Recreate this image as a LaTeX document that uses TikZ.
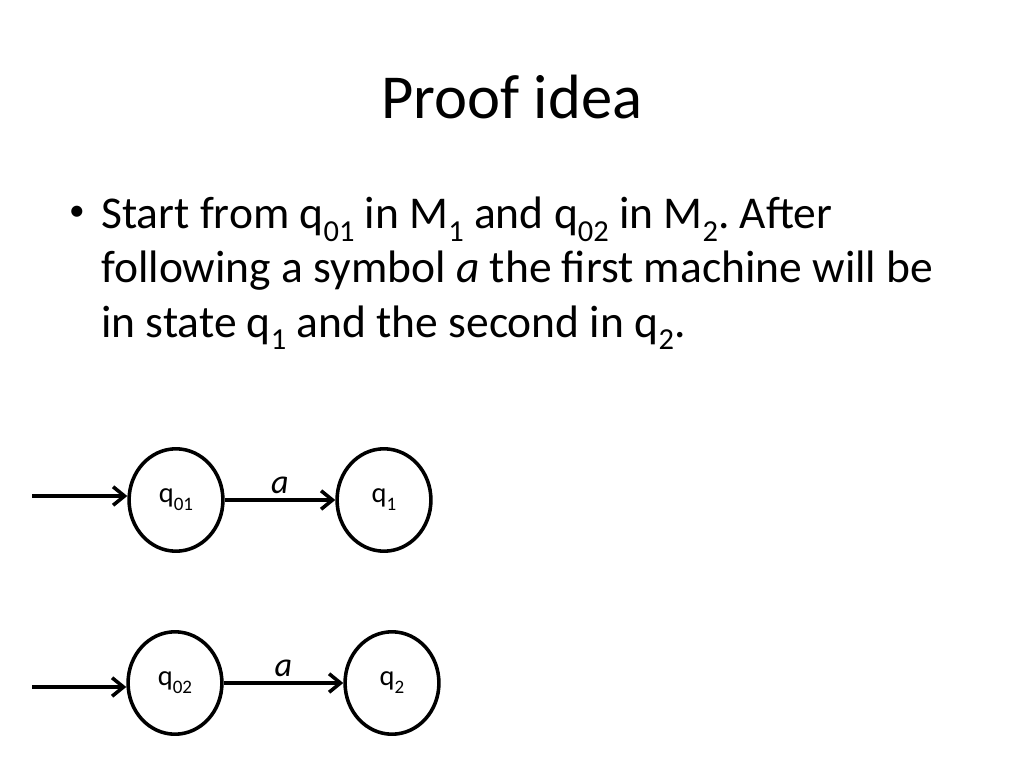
\documentclass[tikz,border=0pt]{standalone}
\usepackage{fontspec}
\setmainfont{Carlito}
\usetikzlibrary{arrows.meta,shapes.geometric}
\frenchspacing
\newcommand{\subs}[1]{\raisebox{-0.28em}{\scalebox{0.67}{#1}}}

\begin{document}
\begin{tikzpicture}[x=0.703125pt,y=-0.703125pt,
	stnode/.style={draw,ellipse,line width=2.5pt,minimum width=66pt,minimum height=72pt,inner sep=0pt,font=\fontsize{20}{22}\selectfont},
	trans/.style={line width=2.5pt,-{Straight Barb[length=8pt,width=13pt]}},
	sym/.style={font=\fontsize{24}{28}\selectfont\itshape}]
	\useasboundingbox (0,0) rectangle (1024,768);
	
	\node[font=\fontsize{44}{53}\selectfont] (title) at (512,97) {Proof idea};
	
	\node[font=\fontsize{22}{26}\selectfont] (bullet) at (77,213) {\textbullet};
	\node[font=\fontsize{32}{38}\selectfont,anchor=base west,align=left,inner sep=0pt] (text) at (101,337)
	{Start from q\subs{01} in M\subs{1} and q\subs{02} in M\subs{2}. After\\
	following a symbol \textit{a} the first machine will be\\
	in state q\subs{1} and the second in q\subs{2}.};
	
	% first machine
	\node[stnode] (q01) at (176,500) {q\subs{01}};
	\node[stnode] (q1) at (384,500) {q\subs{1}};
	\coordinate (in1) at (32,496);
	\draw[trans] (in1) -- (in1 -| q01.west);
	\draw[trans] (q01) -- node[sym,above=0pt] (a1) {a} (q1);
	
	% second machine
	\node[stnode] (q02) at (175,683) {q\subs{02}};
	\node[stnode] (q2) at (392,683) {q\subs{2}};
	\coordinate (in2) at (32,687);
	\draw[trans] (in2) -- (in2 -| q02.west);
	\draw[trans] (q02) -- node[sym,above=0pt] (a2) {a} (q2);
	
\end{tikzpicture}
\end{document}
